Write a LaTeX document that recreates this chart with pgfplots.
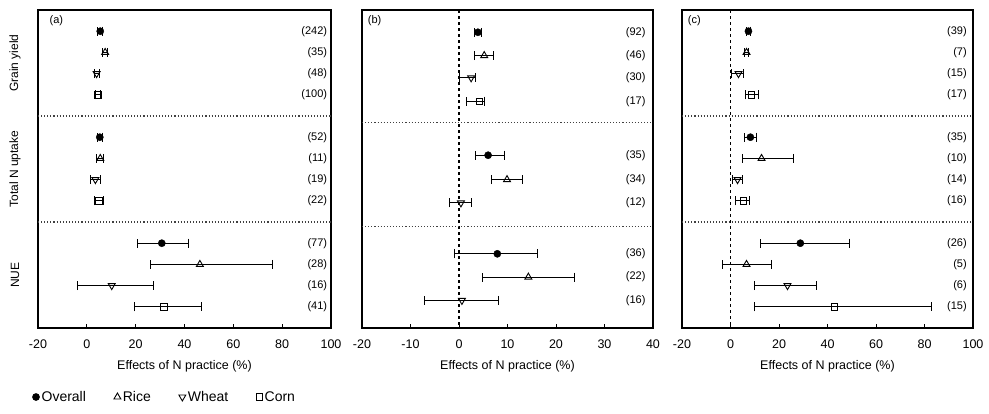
\documentclass[border=0pt]{standalone}
\usepackage{fontspec}
\setmainfont{Liberation Sans}
\usepackage{pgfplots}
\pgfplotsset{compat=1.18}

\tikzset{nlab/.style={anchor=east, font=\fontsize{11}{13}\selectfont, inner sep=0pt}}
\pgfplotsset{
  panel/.style={
    scale only axis, height=318pt,
    anchor=south west,
    ymin=0, ymax=15, y dir=reverse,
    ytick=\empty,
    xtick pos=bottom, tick align=inside,
    axis line style={line width=1.1pt},
    major tick length=4pt,
    every tick/.style={black, line width=0.9pt},
    /pgf/number format/assume math mode=true,
    tick label style={font=\fontsize{12.5}{14}\selectfont},
    xticklabel style={yshift=-8pt},
    xlabel={Effects of N practice (\%)},
    xlabel style={font=\fontsize{12.5}{14}\selectfont, yshift=-5pt},
    clip=false,
  },
  eb/.style={
    only marks, black,
    error bars/x dir=both, error bars/x explicit,
    error bars/error bar style={line width=1pt, black},
    error bars/error mark options={rotate=90, line width=1pt, mark size=4.5pt, black},
  },
  overall/.style={eb, mark=*, mark size=3.6pt, mark options={fill=black}},
  rice/.style={eb, mark=triangle, mark size=4pt, mark options={fill=white, line width=0.9pt}},
  wheat/.style={eb, mark=triangle, mark size=4pt, mark options={fill=white, rotate=180, line width=0.9pt}},
  corn/.style={eb, mark=square, mark size=3.2pt, mark options={fill=white, line width=0.9pt}},
}

\begin{document}
\begin{tikzpicture}
\useasboundingbox (0pt,-85pt) rectangle (989pt,328pt);

% ---------------- Panel (a) ----------------
\begin{axis}[panel, at={(38pt,0pt)}, width=293pt,
  xmin=-20, xmax=100, xtick={-20,0,20,40,60,80,100},
  legend style={at={(axis description cs:-0.03,-0.217)}, anchor=west,
    legend columns=4, draw=none, fill=none,
    font=\fontsize{14}{16}\selectfont,
    /tikz/every even column/.append style={column sep=26pt}},
  legend cell align=left]
\addplot[overall] coordinates {
  (5.5,1) +- (1,0)
  (5.3,6) +- (1,0)
  (30.7,11) -= (9.8,0) += (11.1,0)
};
\addplot[rice] coordinates {
  (7.5,2) +- (1,0)
  (5.5,7) +- (1.5,0)
  (46.3,12) -= (20.1,0) += (29.9,0)
};
\addplot[wheat] coordinates {
  (4.0,3) +- (1,0)
  (3.5,8) +- (2,0)
  (10.2,13) -= (13.9,0) += (17.3,0)
};
\addplot[corn] coordinates {
  (4.5,4) +- (1,0)
  (5.0,9) +- (2,0)
  (31.6,14) -= (11.9,0) += (15.5,0)
};
\legend{Overall, Rice, Wheat, Corn}
\draw[dotted, line width=1.1pt, black!75] (axis cs:-20,5) -- (axis cs:100,5);
\draw[dotted, line width=1.1pt, black!75] (axis cs:-20,10) -- (axis cs:100,10);
\node[font=\fontsize{11}{13}\selectfont] at (axis cs:-12.5,0.5) {(a)};
\node[nlab] at (axis cs:98.5,1) {(242)};
\node[nlab] at (axis cs:98.5,2) {(35)};
\node[nlab] at (axis cs:98.5,3) {(48)};
\node[nlab] at (axis cs:98.5,4) {(100)};
\node[nlab] at (axis cs:98.5,6) {(52)};
\node[nlab] at (axis cs:98.5,7) {(11)};
\node[nlab] at (axis cs:98.5,8) {(19)};
\node[nlab] at (axis cs:98.5,9) {(22)};
\node[nlab] at (axis cs:98.5,11) {(77)};
\node[nlab] at (axis cs:98.5,12) {(28)};
\node[nlab] at (axis cs:98.5,13) {(16)};
\node[nlab] at (axis cs:98.5,14) {(41)};
\node[rotate=90, font=\fontsize{12}{14}\selectfont] at ([xshift=-23pt]axis cs:-20,2.5) {Grain yield};
\node[rotate=90, font=\fontsize{12}{14}\selectfont] at ([xshift=-23pt]axis cs:-20,7.5) {Total N uptake};
\node[rotate=90, font=\fontsize{12}{14}\selectfont] at ([xshift=-23pt]axis cs:-20,12.5) {NUE};
\end{axis}

% ---------------- Panel (b) ----------------
\begin{axis}[panel, at={(362pt,0pt)}, width=291pt,
  xmin=-20, xmax=40, xtick={-20,-10,0,10,20,30,40}]
\draw[dashed, line width=1.1pt] (axis cs:0,0) -- (axis cs:0,15);
\addplot[overall] coordinates {
  (3.9,1.05) +- (0.8,0)
  (6.0,6.85) -= (2.7,0) += (3.3,0)
  (7.9,11.5) -= (8.9,0) += (8.2,0)
};
\addplot[rice] coordinates {
  (5.2,2.15) -= (2.1,0) += (2.0,0)
  (9.9,8.0) -= (3.1,0) += (3.1,0)
  (14.3,12.6) -= (9.5,0) += (9.5,0)
};
\addplot[wheat] coordinates {
  (2.5,3.2) -= (2.3,0) += (1.0,0)
  (0.4,9.1) -= (2.4,0) += (2.1,0)
  (0.6,13.7) -= (7.8,0) += (7.6,0)
};
\addplot[corn] coordinates {
  (4.2,4.3) -= (2.6,0) += (1.0,0)
};
\draw[dotted, line width=1.1pt, black!75] (axis cs:-20,5.3) -- (axis cs:40,5.3);
\draw[dotted, line width=1.1pt, black!75] (axis cs:-20,10.2) -- (axis cs:40,10.2);
\node[font=\fontsize{11}{13}\selectfont, anchor=west] at (axis cs:-19.5,0.5) {(b)};
\node[nlab] at (axis cs:38.5,1.05) {(92)};
\node[nlab] at (axis cs:38.5,2.15) {(46)};
\node[nlab] at (axis cs:38.5,3.2) {(30)};
\node[nlab] at (axis cs:38.5,4.3) {(17)};
\node[nlab] at (axis cs:38.5,6.85) {(35)};
\node[nlab] at (axis cs:38.5,8.0) {(34)};
\node[nlab] at (axis cs:38.5,9.1) {(12)};
\node[nlab] at (axis cs:38.5,11.5) {(36)};
\node[nlab] at (axis cs:38.5,12.6) {(22)};
\node[nlab] at (axis cs:38.5,13.7) {(16)};
\end{axis}

% ---------------- Panel (c) ----------------
\begin{axis}[panel, at={(682pt,0pt)}, width=291pt,
  xmin=-20, xmax=100, xtick={-20,0,20,40,60,80,100}]
\draw[dashed, line width=1.1pt] (axis cs:0,0) -- (axis cs:0,15);
\addplot[overall] coordinates {
  (7.4,1) +- (0.8,0)
  (8.2,6) -= (2.5,0) += (2.5,0)
  (28.8,11) -= (16.5,0) += (20.2,0)
};
\addplot[rice] coordinates {
  (6.6,2) +- (1,0)
  (12.8,7) -= (7.9,0) += (13.1,0)
  (6.6,12) -= (9.9,0) += (10.3,0)
};
\addplot[wheat] coordinates {
  (3.3,3) -= (3.0,0) += (2.0,0)
  (2.9,8) -= (2.1,0) += (2.0,0)
  (23.5,13) -= (13.6,0) += (11.9,0)
};
\addplot[corn] coordinates {
  (8.6,4) -= (2.4,0) += (2.9,0)
  (5.3,9) -= (3.3,0) += (2.5,0)
  (42.8,14) -= (32.9,0) += (39.9,0)
};
\draw[dotted, line width=1.1pt, black!75] (axis cs:-20,5) -- (axis cs:100,5);
\draw[dotted, line width=1.1pt, black!75] (axis cs:-20,10) -- (axis cs:100,10);
\node[font=\fontsize{11}{13}\selectfont, anchor=west] at (axis cs:-19,0.5) {(c)};
\node[nlab] at (axis cs:97.5,1) {(39)};
\node[nlab] at (axis cs:97.5,2) {(7)};
\node[nlab] at (axis cs:97.5,3) {(15)};
\node[nlab] at (axis cs:97.5,4) {(17)};
\node[nlab] at (axis cs:97.5,6) {(35)};
\node[nlab] at (axis cs:97.5,7) {(10)};
\node[nlab] at (axis cs:97.5,8) {(14)};
\node[nlab] at (axis cs:97.5,9) {(16)};
\node[nlab] at (axis cs:97.5,11) {(26)};
\node[nlab] at (axis cs:97.5,12) {(5)};
\node[nlab] at (axis cs:97.5,13) {(6)};
\node[nlab] at (axis cs:97.5,14) {(15)};
\end{axis}
\end{tikzpicture}
\end{document}
